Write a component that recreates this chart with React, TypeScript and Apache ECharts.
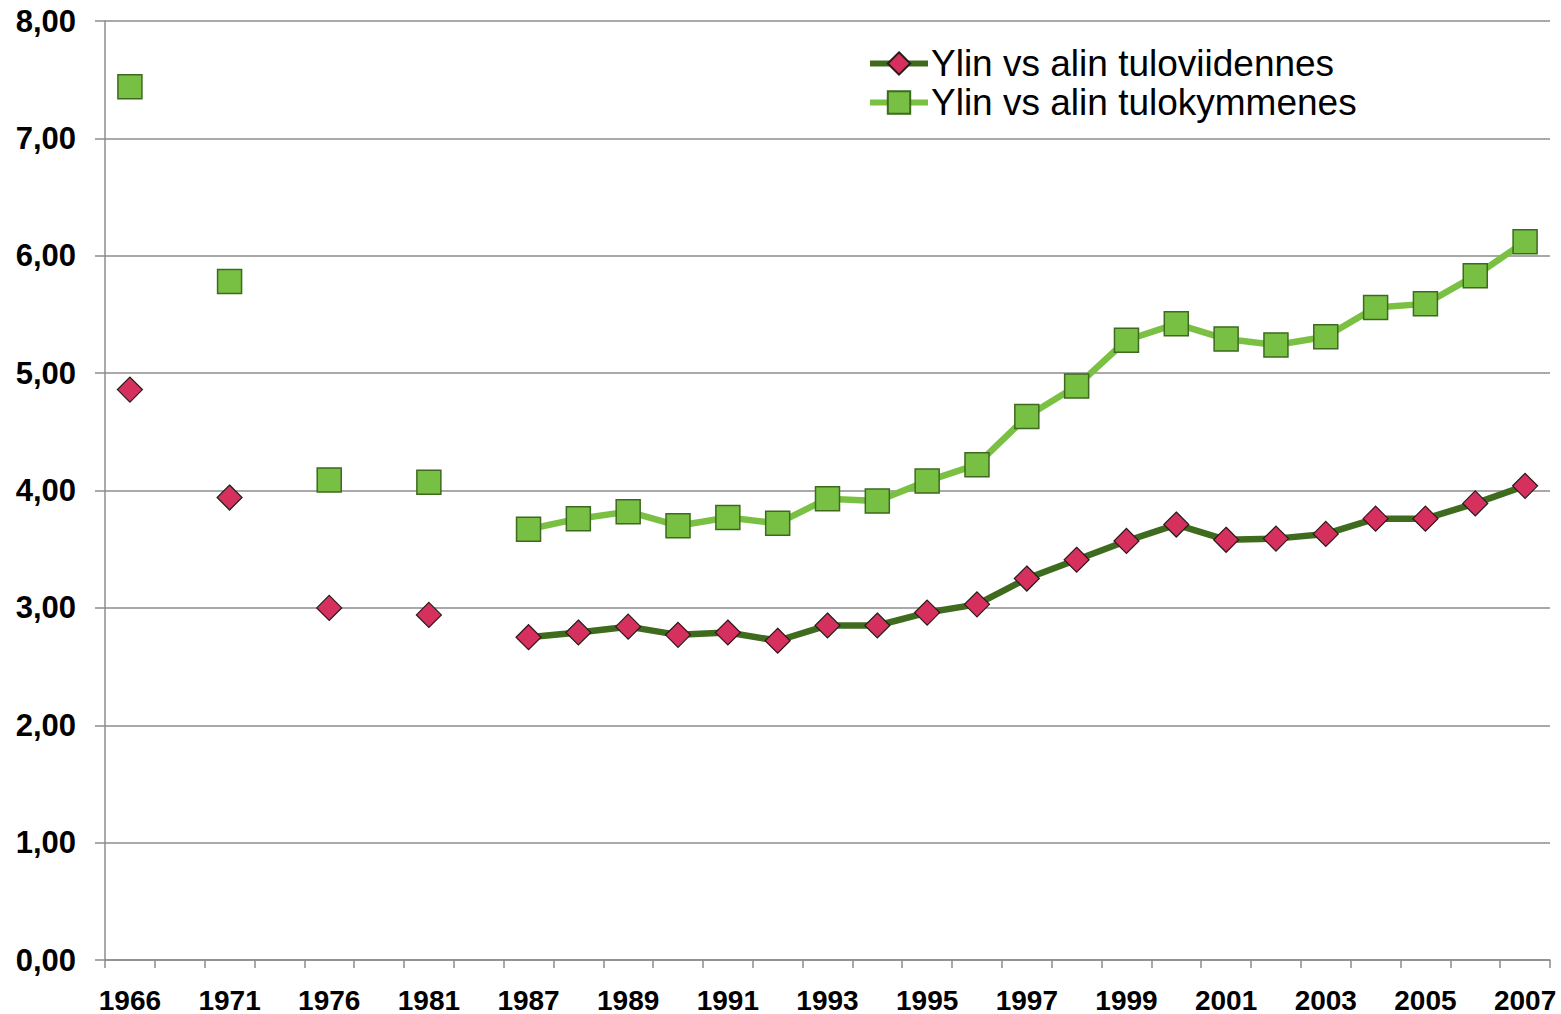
import React, { useEffect, useRef } from "react";
import * as echarts from "echarts";

const categories = [
  "1966", "", "1971", "", "1976", "", "1981", "",
  "1987", "1988", "1989", "1990", "1991", "1992", "1993", "1994", "1995", "1996",
  "1997", "1998", "1999", "2000", "2001", "2002", "2003", "2004", "2005", "2006", "2007",
];

const quintileValues = [
  4.86, null, 3.94, null, 3.0, null, 2.94, null,
  2.75, 2.79, 2.84, 2.77, 2.79, 2.72, 2.85, 2.85, 2.96, 3.03,
  3.25, 3.41, 3.57, 3.71, 3.58, 3.59, 3.63, 3.76, 3.76, 3.89, 4.04,
];

const decileValues = [
  7.44, null, 5.78, null, 4.09, null, 4.07, null,
  3.67, 3.76, 3.82, 3.7, 3.77, 3.72, 3.93, 3.91, 4.08, 4.22,
  4.63, 4.89, 5.28, 5.42, 5.29, 5.24, 5.31, 5.56, 5.59, 5.83, 6.12,
];

const seriesNames = ["Ylin vs alin tuloviidennes", "Ylin vs alin tulokymmenes"];

export default function App() {
  const ref = useRef<HTMLDivElement>(null);
  useEffect(() => {
    if (!ref.current) return;
    const chart = echarts.init(ref.current, null, { renderer: "svg" });
    const font = "'Liberation Sans', Arial, sans-serif";
    chart.setOption({
      animation: false,
      backgroundColor: "#ffffff",
      textStyle: { fontFamily: font },
      grid: { left: 105, right: 11, top: 21, bottom: 54, containLabel: false },
      legend: {
        orient: "vertical",
        left: 862,
        top: 39,
        itemWidth: 58,
        itemHeight: 28,
        itemGap: 0,
        lineStyle: { width: 6 },
        textStyle: { fontSize: 37, color: "#000", fontFamily: font, lineHeight: 39, padding: [0, 0, 0, -2] },
        data: seriesNames,
      },
      xAxis: {
        type: "category",
        data: categories,
        boundaryGap: true,
        axisLine: { lineStyle: { color: "#8c8c8c", width: 1.5 } },
        axisTick: { show: true, interval: 0, length: 8, lineStyle: { color: "#8c8c8c", width: 1.5 } },
        axisLabel: {
          interval: 1,
          margin: 26,
          fontSize: 28,
          fontWeight: "bold",
          color: "#000",
          fontFamily: font,
        },
        splitLine: { show: false },
      },
      yAxis: {
        type: "value",
        min: 0,
        max: 8,
        interval: 1,
        axisLine: { show: true, lineStyle: { color: "#8c8c8c", width: 1.5 } },
        axisTick: { show: true, length: 10, lineStyle: { color: "#8c8c8c", width: 1.5 } },
        axisLabel: {
          margin: 29,
          fontSize: 31,
          fontWeight: "bold",
          color: "#000",
          fontFamily: font,
          formatter: (v: number) => v.toFixed(2).replace(".", ","),
        },
        splitLine: { show: true, lineStyle: { color: "#8c8c8c", width: 1.5 } },
      },
      series: [
        {
          name: seriesNames[0],
          type: "line",
          data: quintileValues,
          connectNulls: false,
          showAllSymbol: true,
          symbol: "diamond",
          symbolSize: [25, 25],
          lineStyle: { color: "#3f6b1f", width: 6.5 },
          itemStyle: { color: "#d6305f", borderColor: "#2a1a1a", borderWidth: 1.2 },
          z: 3,
        },
        {
          name: seriesNames[1],
          type: "line",
          data: decileValues,
          connectNulls: false,
          showAllSymbol: true,
          symbol: "rect",
          symbolSize: [24, 24],
          lineStyle: { color: "#7ac143", width: 6.5 },
          itemStyle: { color: "#77c043", borderColor: "#3d6a1e", borderWidth: 1.5 },
          z: 2,
        },
      ],
    });
    return () => chart.dispose();
  }, []);
  return <div ref={ref} style={{ width: 1561, height: 1014, position: "absolute", left: 0, top: 0 }} />;
}
